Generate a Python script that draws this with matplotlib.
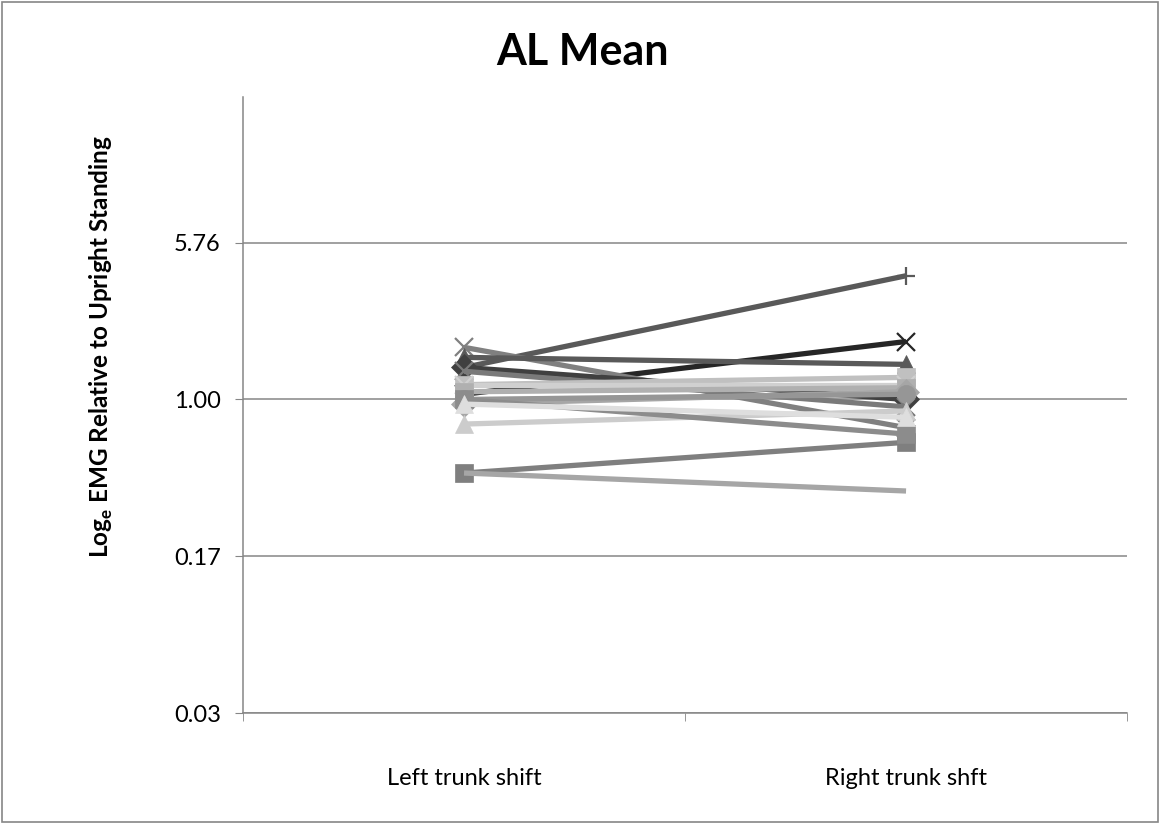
import numpy as np
import matplotlib
matplotlib.use("Agg")
import matplotlib.pyplot as plt
from matplotlib.patches import Rectangle

plt.rcParams['font.family'] = ['Lato', 'DejaVu Sans']
plt.rcParams['mathtext.fontset'] = 'custom'
plt.rcParams['mathtext.bf'] = 'Lato:bold'
plt.rcParams['mathtext.rm'] = 'Lato'

# Data: EMG relative to upright standing
categories = ["Left trunk shift", "Right trunk shft"]
left_vals = [1.43, 1.06, 1.79, 1.60, 1.43, 1.37, 1.18, 1.18, 1.09, 0.95, 1.00, 0.76, 0.44, 0.44, 1.00, 0.95]
right_vals = [3.98, 1.91, 0.73, 1.48, 1.00, 0.92, 1.28, 1.18, 1.14, 1.09, 1.06, 0.88, 0.62, 0.36, 0.68, 0.82]
line_colors = ["#595959", "#262626", "#808080", "#595959", "#404040", "#7a7a7a", "#c0c0c0", "#d0d0d0",
               "#b0b0b0", "#a6a6a6", "#969696", "#cccccc", "#7f7f7f", "#a6a6a6", "#8c8c8c", "#dedede"]
markers = ["+", "x", "x", "^", "D", "x", "s", "x", "s", "D", "o", "^", "s", "None", "s", "^"]

tick_vals = [np.exp(-3.5), np.exp(-1.75), 1.0, np.exp(1.75)]
tick_labels = ["0.03", "0.17", "1.00", "5.76"]

fig = plt.figure(figsize=(11.6, 8.24), dpi=100)
ax = fig.add_axes([0.2095, 0.1347, 0.7621, 0.7476])

x = np.arange(len(categories))
for lv, rv, c, m in zip(left_vals, right_vals, line_colors, markers):
    ax.plot(x, [lv, rv], color=c, lw=3.8, marker=m, markersize=13,
            markeredgewidth=1.6 if m in ("+", "x") else 0.5, markeredgecolor=c,
            solid_capstyle="butt")

ax.set_yscale("log")
ax.set_ylim(np.exp(-3.5), np.exp(3.377))
ax.set_yticks(tick_vals)
ax.set_yticklabels(tick_labels)
ax.yaxis.set_minor_locator(matplotlib.ticker.NullLocator())
ax.set_xlim(-0.5, 1.5)
ax.set_xticks(x)
ax.set_xticklabels(categories)
ax.set_xticks([-0.5, 0.5, 1.5], minor=True)
ax.tick_params(axis="x", which="major", length=0, pad=47, labelsize=17)
ax.tick_params(axis="x", which="minor", length=6, color="#868686", direction="out")
ax.tick_params(axis="y", length=6, color="#868686", labelsize=17, pad=10)
for lbl in ax.get_xticklabels():
    lbl.set_verticalalignment("center")

ax.grid(axis="y", color="#868686", lw=1.1)
ax.set_axisbelow(True)
for s in ["top", "right"]:
    ax.spines[s].set_visible(False)
for s in ["left", "bottom"]:
    ax.spines[s].set_color("#868686")
    ax.spines[s].set_linewidth(1.1)

fig.text(0.502, 0.937, "AL Mean", ha="center", va="center", fontsize=31, fontweight="bold")
fig.text(0.087, 0.58, r"Log$_\mathbf{e}$ EMG Relative to Upright Standing", rotation=90,
         ha="center", va="center", fontsize=17.5, fontweight="bold")

fig.patches.append(Rectangle((0.002, 0.002), 0.996, 0.996, transform=fig.transFigure,
                             fill=False, edgecolor="#868686", lw=1.2))

fig.savefig("out.png", dpi=100, facecolor="white")
